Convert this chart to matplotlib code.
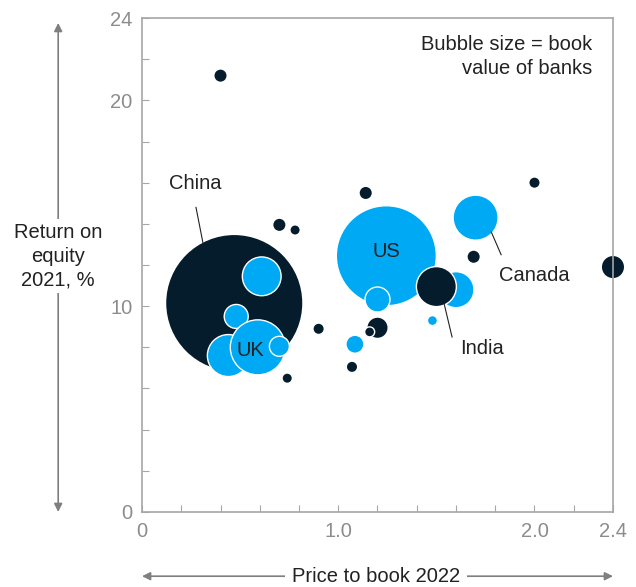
import numpy as np
import matplotlib
matplotlib.use("Agg")
from matplotlib import pyplot as plt

plt.rcParams['font.family'] = ['Liberation Sans', 'DejaVu Sans']

navy = "#051c2c"
blue = "#00a9f4"
grey = "#a6a6a6"

# dark bubbles: price to book 2022, return on equity 2021, book value (arbitrary units)
dark_x = [0.40, 0.47, 0.70, 0.78, 0.90, 0.74, 1.14, 2.00, 1.69, 2.40, 1.20, 1.07]
dark_y = [21.2, 10.15, 13.95, 13.7, 8.9, 6.5, 15.5, 16.0, 12.4, 11.9, 8.95, 7.05]
dark_v = [36, 4624, 36, 20, 25, 20, 36, 25, 36, 121, 100, 25]

# light bubbles
light_x = [1.245, 1.70, 1.60, 1.085, 1.48, 0.61, 0.48, 0.44, 0.59, 0.70]
light_y = [12.45, 14.3, 10.8, 8.15, 9.3, 11.45, 9.5, 7.6, 8.0, 8.05]
light_v = [2500, 506, 324, 81, 25, 376, 144, 441, 756, 100]

# bubbles drawn on top with white rim
top_light_x = [1.20]
top_light_y = [10.35]
top_light_v = [156]
top_dark_x = [1.50, 1.16]
top_dark_y = [10.95, 8.75]
top_dark_v = [400, 25]

labels = {"China": (0.27, 15.95), "US": (1.245, 12.65), "UK": (0.55, 7.85),
          "Canada": (2.0, 11.5), "India": (1.73, 7.95)}
leaders = {"China": [(0.275, 14.8), (0.31, 13.1)],
           "Canada": [(1.78, 13.6), (1.83, 12.5)],
           "India": [(1.54, 10.1), (1.58, 8.5)]}

k = (2 * 0.72) ** 2  # pixel radius^2 -> marker area in points^2
fs = 14.5

fig = plt.figure(figsize=(6.36, 5.87), dpi=100)
ax = fig.add_axes([0.2233, 0.1278, 0.7405, 0.8415])

ax.scatter(dark_x, dark_y, s=np.array(dark_v) * k, color=navy, linewidths=0, zorder=2, clip_on=False)
ax.scatter(light_x, light_y, s=np.array(light_v) * k, color=blue, edgecolors="white", linewidths=1, zorder=3)
ax.scatter(top_light_x, top_light_y, s=np.array(top_light_v) * k, color=blue, edgecolors="white", linewidths=1, zorder=4)
ax.scatter(top_dark_x, top_dark_y, s=np.array(top_dark_v) * k, color=navy, edgecolors="white", linewidths=1, zorder=4)

for name, (lx, ly) in labels.items():
    ax.text(lx, ly, name, fontsize=fs, color="#222222", ha="center", va="center", zorder=6)
for name, pts in leaders.items():
    ax.plot([pts[0][0], pts[1][0]], [pts[0][1], pts[1][1]], color="#222222", lw=0.8, zorder=6)

ax.text(0.955, 0.965, "Bubble size = book\nvalue of banks", transform=ax.transAxes,
        ha="right", va="top", multialignment="right", fontsize=fs, color="#222222", linespacing=1.3)

ax.set_xlim(0, 2.4)
ax.set_ylim(0, 24)
ax.set_xticks(np.arange(0, 2.41, 0.2))
ax.set_xticklabels(["0" if abs(v) < 1e-9 else ("%.1f" % v if round(v, 1) in (1.0, 2.0, 2.4) else "")
                    for v in np.arange(0, 2.41, 0.2)])
ax.set_yticks(np.arange(0, 25, 2))
ax.set_yticklabels([str(v) if v in (0, 10, 20, 24) else "" for v in range(0, 25, 2)])
ax.tick_params(direction="in", length=5, color=grey, labelcolor="#8c8c8c", labelsize=14.5, pad=7)
for s in ax.spines.values():
    s.set_color(grey)
    s.set_linewidth(1.2)

# axis arrows
arrow_kw = dict(arrowstyle="<|-|>", color="#7f7f7f", lw=1.2, mutation_scale=12, shrinkA=0, shrinkB=0)
ax.annotate("", xy=(-0.178, 0.99), xytext=(-0.178, 0.0), xycoords="axes fraction", arrowprops=arrow_kw)
ax.text(-0.178, 0.518, "Return on\nequity\n2021, %", transform=ax.transAxes, ha="center", va="center",
        fontsize=fs, color="#222222", linespacing=1.3, bbox=dict(fc="white", ec="none", pad=3))
ax.annotate("", xy=(0.0, -0.13), xytext=(1.0, -0.13), xycoords="axes fraction", arrowprops=arrow_kw)
ax.text(0.497, -0.13, "Price to book 2022", transform=ax.transAxes, ha="center", va="center",
        fontsize=fs, color="#222222", bbox=dict(fc="white", ec="none", pad=5))

fig.savefig("out.png", dpi=100)
